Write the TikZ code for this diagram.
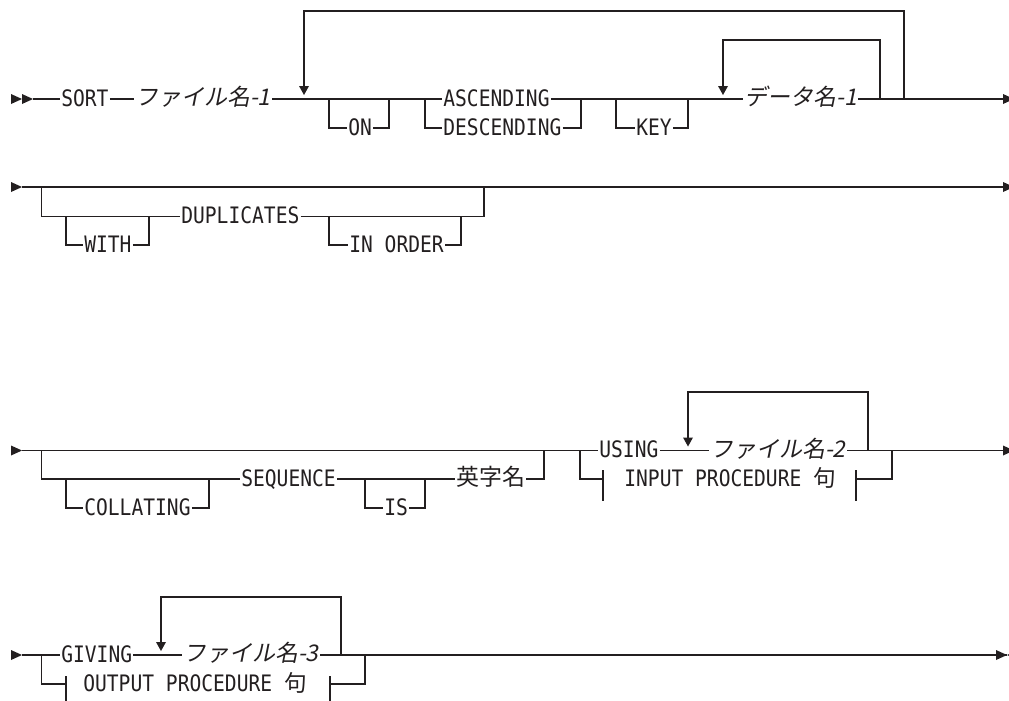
\documentclass[tikz,border=0pt]{standalone}
\usepackage{fontspec}
\newfontfamily\kwfont[FakeStretch=0.865]{DejaVu Sans Mono}
\newfontfamily\jpfont{Noto Sans CJK JP}
\newfontfamily\jpit[FakeSlant=0.2]{Noto Sans CJK JP}
\definecolor{ink}{RGB}{35,31,32}
\begin{document}
\begin{tikzpicture}[x=0.75pt,y=-0.75pt,
  kw/.style={font=\kwfont\fontsize{17pt}{20pt}\selectfont, inner sep=0pt, outer xsep=1pt, text height=11pt, text depth=0pt, anchor=west, text=ink},
  var/.style={font=\jpit\fontsize{17.2pt}{20pt}\selectfont, inner sep=0pt, outer xsep=1pt, text height=10pt, text depth=0pt, anchor=west, text=ink},
  jp/.style={font=\jpfont\fontsize{17.2pt}{20pt}\selectfont, inner sep=0pt, outer xsep=1pt, text height=10pt, text depth=0pt, anchor=west, text=ink},
  rail/.style={draw=ink, line width=0.95pt},
  rtri/.pic={\fill[ink] (0,0) -- (-11,-5) -- (-11,5) -- cycle;},
  ltri/.pic={\fill[ink] (0,0) -- (11,-5) -- (11,5) -- cycle;},
  dtri/.pic={\fill[ink] (0,0) -- (-5,-9) -- (5,-9) -- cycle;},
  vbar/.style={draw=ink, line width=0.95pt}
]
\useasboundingbox (0,0) rectangle (1009,700);
\clip (0,0) rectangle (1009,700);

% ---------------- Row 1 ----------------
\pic at (22,99) {rtri};
\pic at (33,99) {rtri};
\coordinate (r1s) at (33,99);
\node[kw] (sort) at (60,99) {SORT};
\node[var] (f1) at (134,99) {ファイル名-1};
\node[kw] (on) at (347,128) {ON};
\node[kw] (asc) at (442,99) {ASCENDING};
\node[kw] (desc) at (442,128) {DESCENDING};
\node[kw] (key) at (635,128) {KEY};
\node[var] (d1) at (743,99) {データ名-1};
\coordinate (r1e) at (1003,99);

\draw[rail] (r1s) -- (sort.west);
\draw[rail] (sort.east) -- (f1.west);
\draw[rail] (f1.east) -- (asc.west);
\draw[rail] (asc.east) -- (d1.west);
\draw[rail] (d1.east) -- (r1e);
\pic at (1014,99) {rtri};
% outer repeat loop
\draw[rail] (904,99) -- (904,11) -- (304,11) -- (304,86);
\pic at (304,95) {dtri};
% inner repeat loop
\draw[rail] (880,99) -- (880,40) -- (723,40) -- (723,86);
\pic at (723,95) {dtri};
% ON
\draw[rail] (329,99) -- (329,128) -- (on.west);
\draw[rail] (on.east) -- (389,128) -- (389,99);
% DESCENDING
\draw[rail] (425,99) -- (425,128) -- (desc.west);
\draw[rail] (desc.east) -- (581,128) -- (581,99);
% KEY
\draw[rail] (616,99) -- (616,128) -- (key.west);
\draw[rail] (key.east) -- (688,128) -- (688,99);

% ---------------- Row 2 ----------------
\pic at (22,187) {rtri};
\coordinate (r2s) at (22,187);
\coordinate (r2e) at (1003,187);
\node[kw] (with) at (83,245) {WITH};
\node[kw] (dup) at (180,216.5) {DUPLICATES};
\node[kw] (ino) at (348,245) {IN ORDER};
\draw[rail] (r2s) -- (r2e);
\pic at (1014,187) {rtri};
\draw[rail] (41.7,187) -- (41.7,216.5) -- (dup.west);
\draw[rail] (dup.east) -- (484,216.5) -- (484,187);
\draw[rail] (66,216.5) -- (66,245) -- (with.west);
\draw[rail] (with.east) -- (149,245) -- (149,216.5);
\draw[rail] (329,216.5) -- (329,245) -- (ino.west);
\draw[rail] (ino.east) -- (461,245) -- (461,216.5);

% ---------------- Row 3 ----------------
\pic at (22,450.5) {rtri};
\coordinate (r3s) at (22,450.5);
\coordinate (r3e) at (1003,450.5);
\node[kw] (coll) at (83,508) {COLLATING};
\node[kw] (seq) at (240,479) {SEQUENCE};
\node[kw] (is) at (383,508) {IS};
\node[jp] (eiji) at (455,479) {英字名};
\node[kw] (using) at (598,450.5) {USING};
\node[var] (f2) at (709,450.5) {ファイル名-2};
\node[kw] (inp) at (623,479) {INPUT PROCEDURE {\jpfont 句}};
\draw[rail] (r3s) -- (using.west);
\draw[rail] (using.east) -- (f2.west);
\draw[rail] (f2.east) -- (r3e);
\pic at (1014,450.5) {rtri};
\draw[rail] (41.7,450.5) -- (41.7,479) -- (seq.west);
\draw[rail] (66,479) -- (66,508) -- (coll.west);
\draw[rail] (coll.east) -- (209,508) -- (209,479);
\draw[rail] (seq.east) -- (eiji.west);
\draw[rail] (365,479) -- (365,508) -- (is.west);
\draw[rail] (is.east) -- (425,508) -- (425,479);
\draw[rail] (eiji.east) -- (544,479) -- (544,450.5);
% USING loop
\draw[rail] (868,450.5) -- (868,392) -- (688,392) -- (688,437.5);
\pic at (688,446.5) {dtri};
% INPUT PROCEDURE branch
\draw[rail] (580,450.5) -- (580,479) -- (603,479);
\draw[vbar] (603,470) -- (603,501);
\draw[vbar] (856,470) -- (856,501);
\draw[rail] (856,479) -- (892,479) -- (892,450.5);

% ---------------- Row 4 ----------------
\pic at (22,655) {rtri};
\coordinate (r4s) at (22,655);
\coordinate (r4e) at (1007,655);
\node[kw] (giv) at (60,655) {GIVING};
\node[var] (f3) at (182,655) {ファイル名-3};
\node[kw] (outp) at (82,684) {OUTPUT PROCEDURE {\jpfont 句}};
\draw[rail] (r4s) -- (giv.west);
\draw[rail] (giv.east) -- (f3.west);
\draw[rail] (f3.east) -- (r4e);
\pic at (r4e) {rtri};
\pic at (r4e) {ltri};
\draw[rail] (341,655) -- (341,597) -- (161,597) -- (161,642);
\pic at (161,651) {dtri};
\draw[rail] (41.7,655) -- (41.7,684) -- (66,684);
\draw[vbar] (66,676) -- (66,706);
\draw[vbar] (330,676) -- (330,706);
\draw[rail] (330,684) -- (365,684) -- (365,655);
\end{tikzpicture}
\end{document}
